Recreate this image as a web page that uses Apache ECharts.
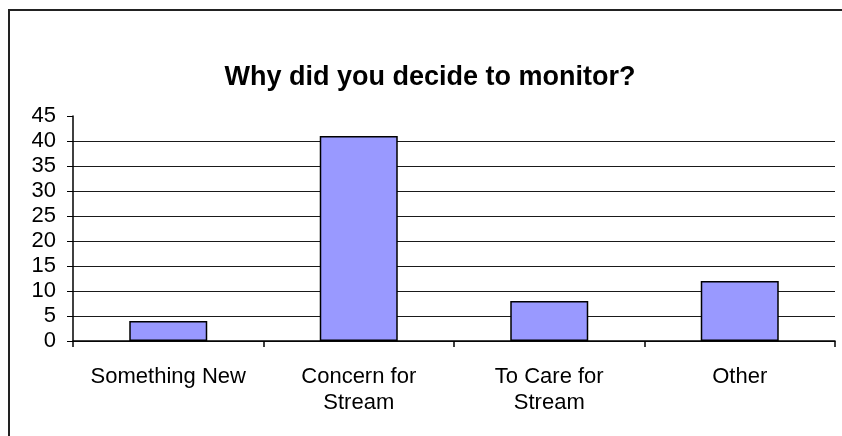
<!DOCTYPE html>
<html>
<head>
<meta charset="utf-8">
<script src="https://cdn.jsdelivr.net/npm/echarts@6/dist/echarts.min.js"></script>
<style>
  html, body { margin: 0; padding: 0; background: #fff; }
  #chart { width: 842px; height: 436px; }
</style>
</head>
<body>
<div id="chart"></div>
<script>
// Survey responses: reasons for starting to monitor
const chartTitle = 'Why did you decide to monitor?';
const categories = ['Something New', 'Concern for\nStream', 'To Care for\nStream', 'Other'];
const responses = [4, 41, 8, 12];
const yTicks = { min: 0, max: 45, step: 5 };

const fontFamily = 'Liberation Sans, Arial, sans-serif';
const gridColors = [];
for (let v = yTicks.min; v <= yTicks.max; v += yTicks.step) {
  gridColors.push(v === yTicks.max ? 'transparent' : '#1a1a1a');
}

const chart = echarts.init(document.getElementById('chart'), null, { renderer: 'canvas' });
chart.setOption({
  animation: false,
  backgroundColor: '#fff',
  title: {
    text: chartTitle,
    left: 425,
    textAlign: 'center',
    top: 59,
    textStyle: { fontFamily, fontSize: 27, fontWeight: 'bold', color: '#000' }
  },
  graphic: [{
    type: 'rect',
    shape: { x: 9, y: 10, width: 1000, height: 1000 },
    style: { fill: 'none', stroke: '#222', lineWidth: 2 },
    silent: true
  }],
  grid: { left: 73, right: 7, top: 116, bottom: 95, containLabel: false },
  xAxis: {
    type: 'category',
    data: categories,
    boundaryGap: true,
    axisLine: { show: true, lineStyle: { color: '#000', width: 1.5 } },
    axisTick: { show: true, length: 6, inside: false, lineStyle: { color: '#000', width: 1.5 } },
    axisLabel: { fontFamily, fontSize: 22, color: '#000', margin: 23, lineHeight: 26, interval: 0 }
  },
  yAxis: {
    type: 'value',
    min: yTicks.min,
    max: yTicks.max,
    interval: yTicks.step,
    axisLine: { show: true, lineStyle: { color: '#000', width: 1.5 } },
    axisTick: { show: true, length: 6, inside: false, lineStyle: { color: '#000', width: 1 } },
    axisLabel: { fontFamily, fontSize: 22, color: '#000', margin: 17 },
    splitLine: { show: true, lineStyle: { color: gridColors, width: 1 } }
  },
  series: [{
    type: 'bar',
    data: responses,
    barWidth: 78,
    itemStyle: { color: '#9999FF', borderColor: '#000', borderWidth: 1.5 }
  }]
});
</script>
</body>
</html>
